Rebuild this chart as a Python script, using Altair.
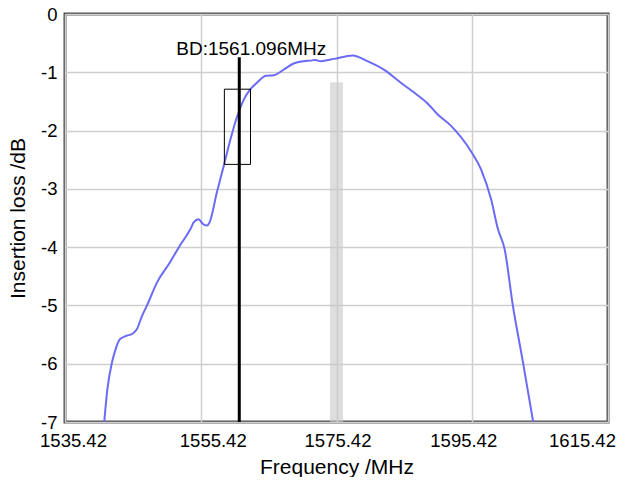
import altair as alt
import pandas as pd

freq = [1541.2, 1541.67, 1542.3, 1542.8, 1543.5, 1544.5, 1545.3, 1546.0, 1546.7, 1547.5,
        1549.0, 1550.9, 1552.2, 1553.9, 1554.4, 1555.1, 1555.7, 1556.3, 1556.7, 1557.8,
        1558.8, 1559.8, 1560.8, 1561.8, 1562.75, 1563.7, 1565.0, 1566.2, 1567.7, 1569.1,
        1570.6, 1571.6, 1572.3, 1573.1, 1575.05, 1577.8, 1579.98, 1582.45, 1584.9, 1587.0,
        1588.8, 1590.3, 1592.3, 1595.2, 1596.7, 1598.2, 1599.2, 1600.2, 1601.4, 1602.9,
        1604.4]
loss = [-7.0, -6.43, -6.0, -5.78, -5.58, -5.52, -5.49, -5.41, -5.2, -5.0,
        -4.6, -4.26, -4.0, -3.69, -3.57, -3.52, -3.6, -3.63, -3.58, -3.06,
        -2.61, -2.15, -1.75, -1.46, -1.29, -1.18, -1.06, -1.05, -0.95, -0.85,
        -0.81, -0.80, -0.79, -0.81, -0.77, -0.71, -0.81, -0.96, -1.18, -1.36,
        -1.53, -1.72, -1.92, -2.35, -2.66, -3.18, -3.69, -4.04, -5.0, -5.98,
        -7.0]

x_ticks = [1535.42, 1555.42, 1575.42, 1595.42, 1615.42]
y_ticks = [0, -1, -2, -3, -4, -5, -6, -7]

marker_freq = 1561.096
marker_top = -0.74
marker_label = "BD:1561.096MHz"

box = {"x": 1558.9, "x2": 1562.75, "y": -1.29, "y2": -2.58}
band = {"x": 1574.46, "x2": 1576.38, "y": -1.17, "y2": -7.0}

FONT = "Liberation Sans"

xs = alt.Scale(domain=[1535.42, 1615.42], nice=False, zero=False)
ys = alt.Scale(domain=[-7, 0], nice=False, zero=False)

x_label_shift = ("datum.value < 1540 ? 8 : datum.value < 1560 ? 12 : "
                 "datum.value < 1580 ? 1 : datum.value < 1600 ? -9 : -26")

xaxis = alt.Axis(values=x_ticks, format=".2f", title="Frequency /MHz", grid=True,
                 gridColor="#cfcfcf", gridWidth=1.5, ticks=False, domain=False,
                 labelFontSize=18.5, labelFont=FONT, labelColor="black", labelPadding=9,
                 labelOffset=alt.ExprRef(x_label_shift),
                 titleFontSize=21, titleFont=FONT, titleFontWeight="normal",
                 titleColor="black", titlePadding=7, labelFlush=False)
yaxis = alt.Axis(values=y_ticks, labelExpr="'' + datum.value", title="Insertion loss /dB", grid=True,
                 gridColor="#cfcfcf", gridWidth=1.5, ticks=False, domain=False,
                 labelFontSize=18.5, labelFont=FONT, labelColor="black", labelPadding=8,
                 titleFontSize=21, titleFont=FONT, titleFontWeight="normal",
                 titleColor="black", titlePadding=12, labelFlush=False)

df = pd.DataFrame({"freq": freq, "loss": loss})

curve = alt.Chart(df).mark_line(color="#6b6bf5", strokeWidth=2, interpolate="monotone", clip=True).encode(
    x=alt.X("freq:Q", scale=xs, axis=xaxis),
    y=alt.Y("loss:Q", scale=ys, axis=yaxis),
)

band_df = pd.DataFrame([band])
band_mark = alt.Chart(band_df).mark_rect(color="#c8c8c8", opacity=0.6).encode(
    x=alt.X("x:Q", scale=xs), x2="x2:Q", y=alt.Y("y:Q", scale=ys), y2="y2:Q")

box_df = pd.DataFrame([box])
box_mark = alt.Chart(box_df).mark_rect(fillOpacity=0, stroke="black", strokeWidth=1).encode(
    x=alt.X("x:Q", scale=xs), x2="x2:Q", y=alt.Y("y:Q", scale=ys), y2="y2:Q")

mk_df = pd.DataFrame({"x": [marker_freq], "y": [marker_top], "y2": [-7.0], "label": [marker_label]})
rule = alt.Chart(mk_df).mark_rule(color="black", strokeWidth=3).encode(
    x=alt.X("x:Q", scale=xs), y=alt.Y("y:Q", scale=ys), y2="y2:Q")
txt = alt.Chart(mk_df).mark_text(font=FONT, fontSize=19, color="black", dx=12, dy=-2,
                                 baseline="alphabetic", align="center").encode(
    x=alt.X("x:Q", scale=xs), y=alt.Y("y:Q", scale=ys), text="label:N")

chart = alt.layer(band_mark, curve, rule, box_mark, txt).properties(
    width=543, height=408,
    autosize=alt.AutoSizeParams(type="none"),
    padding={"left": 57, "top": 6, "right": 11, "bottom": 55},
).configure_view(stroke="#4a4a4a", strokeWidth=3)

chart.save("out.html", embed_options={"renderer": "svg", "actions": False})
